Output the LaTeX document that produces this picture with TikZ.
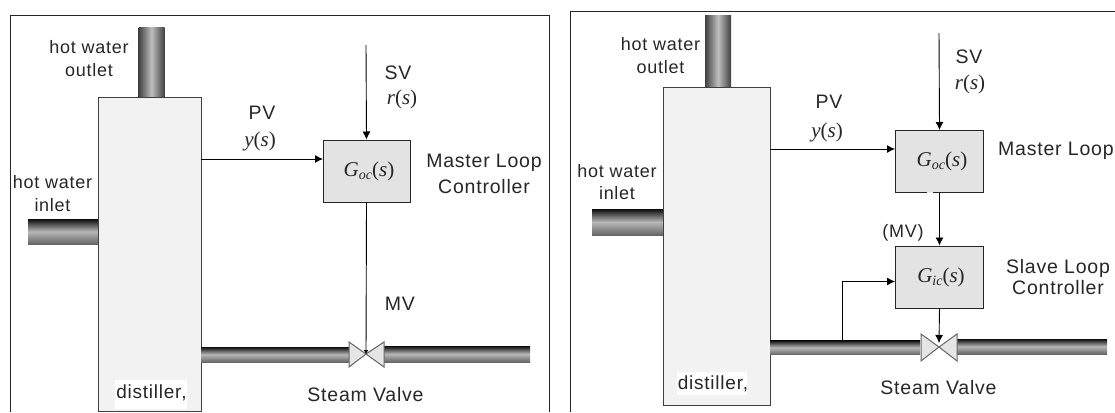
\documentclass[tikz,border=0pt]{standalone}
\usepackage{fontspec}
\setmainfont[LetterSpace=4]{Liberation Sans}
\newfontfamily\sigfont{Liberation Serif}
\usetikzlibrary{arrows.meta}
\newcommand{\vsig}[2]{{\sigfont\itshape #1}{\sigfont (}{\sigfont\itshape #2}{\sigfont )}}
\newcommand{\gsig}[1]{{\sigfont\itshape G}\raisebox{-3pt}{\sigfont\itshape\fontsize{14}{14}\selectfont #1}{\sigfont (}{\sigfont\itshape s}{\sigfont )}}
\tikzset{
  x=1pt,y=-1pt,
  txt/.style={inner sep=0pt,align=center,font=\fontsize{19.5}{23}\selectfont,text=black!85},
  txtsmall/.style={txt,font=\fontsize{18}{23}\selectfont},
  sig/.style={inner sep=0pt,font=\fontsize{21}{22}\selectfont,text=black!85},
  panel/.style={draw=black!85,line width=1pt},
  vessel/.style={draw=black!75,line width=1pt,fill=black!5,inner sep=0pt,minimum width=#1},
  ctrl/.style={draw=black!85,line width=1pt,fill=black!11,inner sep=0pt,minimum width=88pt,minimum height=62pt},
  ctrltext/.style={inner sep=0pt,font=\fontsize{21}{22}\selectfont,text=black!85},
  hpipe/.style={inner sep=0pt,top color=black!95,bottom color=black!60,middle color=black!28},
  vpipe/.style={inner sep=0pt,left color=black!75,right color=black!75,middle color=black!25},
  valvepart/.style={draw=black!60,line width=1pt,fill=black!10},
  sigline/.style={draw=black,line width=0.9pt},
  sigarrow/.style={sigline,-{Latex[length=8pt,width=8pt]}},
  tinyarrow/.style={sigline,-{Latex[length=4pt,width=5pt]}},
  notch/.style={draw=black!8,line width=1.2pt},
  patch/.style={fill=white,inner sep=0pt}
}
\begin{document}
\begin{tikzpicture}
\useasboundingbox (0,0) rectangle (1115,412);
% left panel
\coordinate (lf1) at (10,412); \coordinate (lf2) at (10,16); \coordinate (lf3) at (549,16); \coordinate (lf4) at (549,412);
\draw[panel] (lf1) -- (lf2) -- (lf3) -- (lf4);
\node[vpipe,minimum width=26pt,minimum height=70pt] (Lout) at (151.5,62.5) {};
\node[hpipe,minimum width=70pt,minimum height=25pt] (Lin) at (63,231.5) {};
\node[vessel=103pt,minimum height=314pt] (Ldist) at (149.5,254) {};
\node[hpipe,minimum width=148pt,minimum height=15pt] (Lp1) at (275,354.5) {};
\node[hpipe,minimum width=146pt,minimum height=16pt] (Lp2) at (457,354) {};
\node[ctrl,minimum width=87pt] (Lg) at (366.5,171) {};
\node[ctrltext] (Lgt) at (369,171) {\gsig{oc}};
\coordinate (Lv) at (366,354);
\coordinate (Lsv) at (366,45);
\coordinate (Lpv) at (201,159);
\coordinate (Lgw) at (323,159);
\draw[valvepart] (Lv) -- (349,342) -- (349,367) -- cycle;
\draw[valvepart] (Lv) -- (384,342) -- (384,367) -- cycle;
\draw[sigarrow] (Lsv) -- (Lg.north);
\draw[sigarrow] (Lpv) -- (Lgw);
\draw[tinyarrow] (Lg.south) -- (Lv);
\node[txtsmall] (t1) at (89,58.5) {hot water\\outlet};
\node[txtsmall] (t2) at (52.5,194) {hot water\\inlet};
\node[txt] (t3) at (262,113) {PV};
\node[sig] (t4) at (260,141) {\vsig{y}{s}};
\node[txt] (t5) at (398,73) {SV};
\node[sig] (t6) at (402,99) {\vsig{r}{s}};
\node[txt,font=\fontsize{19.5}{26}\selectfont] (t7) at (484,174) {Master Loop\\Controller};
\node[txt] (t8) at (400,303.5) {MV};
\node[txt] (t9) at (365.5,395) {Steam Valve};
\node[patch,minimum width=72pt,minimum height=29pt] (t10p) at (151,394.5) {};
\node[txt,font=\fontsize{19}{23}\selectfont] (t10) at (151.5,393) {distiller,};
% right panel
\coordinate (rf1) at (570,412); \coordinate (rf2) at (570,12); \coordinate (rf3) at (1115,12);
\draw[panel] (rf1) -- (rf2) -- (rf3);
\node[vpipe,minimum width=26pt,minimum height=71pt] (Rout) at (718,51.5) {};
\node[hpipe,minimum width=71pt,minimum height=26pt] (Rin) at (627.5,222) {};
\node[vessel=107pt,minimum height=318pt] (Rdist) at (716.5,246) {};
\node[hpipe,minimum width=150pt,minimum height=14pt] (Rp1) at (845,347.5) {};
\node[hpipe,minimum width=150pt,minimum height=15pt] (Rp2) at (1032,346.5) {};
\node[ctrl] (Rg) at (939.5,161.5) {};
\node[ctrltext] (Rgt) at (942,161.5) {\gsig{oc}};
\node[ctrl] (Rk) at (939.5,277) {};
\node[ctrltext] (Rkt) at (941,277) {\gsig{ic}};
\coordinate (Rv) at (939,347);
\coordinate (Rvt) at (939,343);
\coordinate (Rsv) at (939,33);
\coordinate (Rpv) at (770,149);
\coordinate (Rgw) at (895,149);
\coordinate (Rfb) at (842,342);
\coordinate (Rfc) at (842,281.5);
\coordinate (Rkw) at (895,281.5);
\coordinate (Rn1) at (927,192.5);
\coordinate (Rn2) at (933,192.5);
\draw[notch] (Rn1) -- (Rn2);
\draw[valvepart] (Rv) -- (921,334) -- (921,361) -- cycle;
\draw[valvepart] (Rv) -- (957,334) -- (957,361) -- cycle;
\draw[sigarrow] (Rsv) -- (Rg.north);
\draw[sigarrow] (Rpv) -- (Rgw);
\draw[sigarrow] (Rg.south) -- (Rk.north);
\draw[sigarrow] (Rk.south) -- (Rvt);
\draw[sigarrow] (Rfb) -- (Rfc) -- (Rkw);
\node[txtsmall] (u1) at (660.5,55.5) {hot water\\outlet};
\node[txtsmall,font=\fontsize{18}{22}\selectfont] (u2) at (617,182.5) {hot water\\inlet};
\node[txt] (u3) at (829,102) {PV};
\node[sig] (u4) at (827,132) {\vsig{y}{s}};
\node[txt] (u5) at (969,57) {SV};
\node[sig] (u6) at (970,84) {\vsig{r}{s}};
\node[txt,anchor=west] (u7) at (998,151) {Master Loop};
\node[txt,font=\fontsize{18}{23}\selectfont] (u8) at (903,233) {(MV)};
\node[txt,font=\fontsize{19.5}{21}\selectfont] (u9) at (1058,277.5) {Slave Loop\\Controller};
\node[txt] (u10) at (938.5,388) {Steam Valve};
\node[patch,minimum width=70pt,minimum height=23pt] (u11p) at (712,383.5) {};
\node[txt,font=\fontsize{19}{23}\selectfont] (u11) at (713,384) {distiller,};
\end{tikzpicture}
\end{document}
